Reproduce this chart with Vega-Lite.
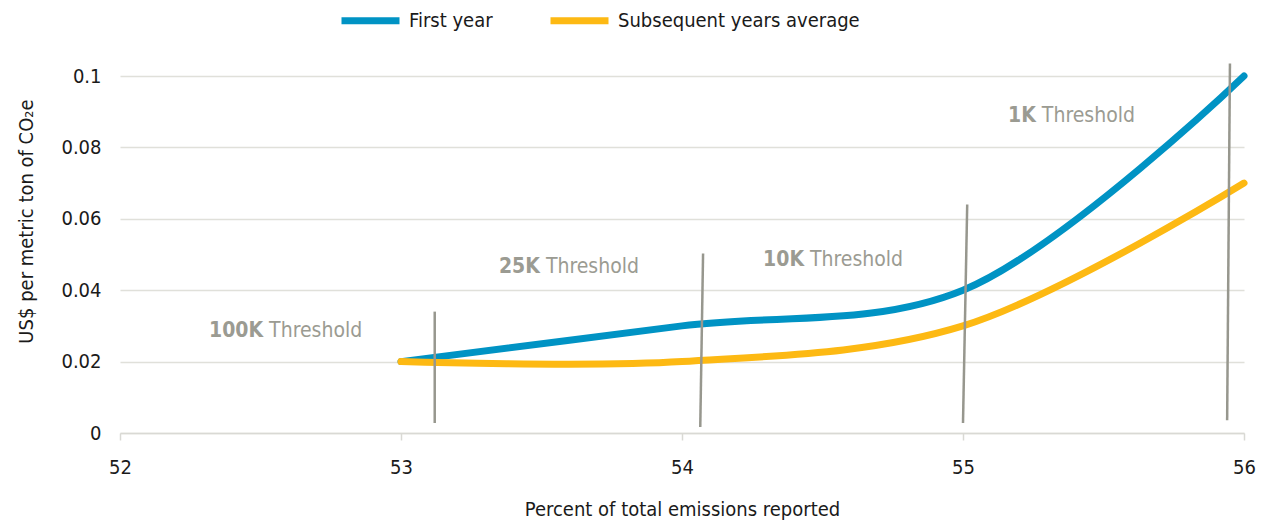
{
  "$schema": "https://vega.github.io/schema/vega-lite/v6.json",
  "width": 1124,
  "height": 357,
  "autosize": {"type": "none"},
  "padding": {"left": 120, "top": 76, "right": 18, "bottom": 92},
  "background": "#ffffff",
  "config": {
    "font": "DejaVu Sans Condensed, sans-serif",
    "view": {"stroke": null},
    "axis": {
      "labelFontSize": 20,
      "titleFontSize": 20,
      "labelColor": "#1a1a1a",
      "titleColor": "#1a1a1a",
      "titleFontWeight": "normal"
    },
    "legend": {"labelFontSize": 20, "labelColor": "#1a1a1a", "labelLimit": 400}
  },
  "datasets": {
    "series": [
      {"pct": 53, "cost": 0.02, "series": "First year"},
      {"pct": 54, "cost": 0.03, "series": "First year"},
      {"pct": 55, "cost": 0.04, "series": "First year"},
      {"pct": 56, "cost": 0.1, "series": "First year"},
      {"pct": 53, "cost": 0.02, "series": "Subsequent years average"},
      {"pct": 54, "cost": 0.02, "series": "Subsequent years average"},
      {"pct": 55, "cost": 0.03, "series": "Subsequent years average"},
      {"pct": 56, "cost": 0.07, "series": "Subsequent years average"}
    ],
    "thresholds": [
      {"xTop": 53.12, "xBot": 53.12, "yTop": 0.034, "yBot": 0.0028, "pos": 52.52, "ypos": 0.0286, "bold": "100K", "rest": "Threshold"},
      {"xTop": 54.075, "xBot": 54.065, "yTop": 0.0503, "yBot": 0.0017, "pos": 53.505, "ypos": 0.0465, "bold": "25K", "rest": "Threshold"},
      {"xTop": 55.015, "xBot": 55.0, "yTop": 0.064, "yBot": 0.0028, "pos": 54.445, "ypos": 0.0485, "bold": "10K", "rest": "Threshold"},
      {"xTop": 55.95, "xBot": 55.94, "yTop": 0.1035, "yBot": 0.0036, "pos": 55.27, "ypos": 0.0888, "bold": "1K", "rest": "Threshold"}
    ]
  },
  "layer": [
    {
      "data": {"name": "series"},
      "mark": {"type": "line", "interpolate": "catmull-rom", "strokeWidth": 7, "strokeCap": "round"},
      "encoding": {
        "x": {
          "field": "pct", "type": "quantitative",
          "scale": {"domain": [52, 56], "nice": false, "zero": false},
          "axis": {
            "title": "Percent of total emissions reported",
            "values": [52, 53, 54, 55, 56],
            "format": "d",
            "grid": false,
            "labelFlush": false,
            "domainColor": "#d9d9d4",
            "domainWidth": 1.5,
            "tickColor": "#d9d9d4",
            "tickWidth": 1.5,
            "tickSize": 7,
            "labelPadding": 17,
            "titlePadding": 22
          }
        },
        "y": {
          "field": "cost", "type": "quantitative",
          "scale": {"domain": [0, 0.1], "nice": false},
          "axis": {
            "title": "US$ per metric ton of CO₂e",
            "values": [0, 0.02, 0.04, 0.06, 0.08, 0.1],
            "format": ".2~f",
            "domain": false,
            "ticks": false,
            "grid": true,
            "gridColor": "#e0e0da",
            "gridWidth": 1.5,
            "labelPadding": 19,
            "titleX": -84,
            "titleY": 145
          }
        },
        "color": {
          "field": "series", "type": "nominal",
          "scale": {"domain": ["First year", "Subsequent years average"], "range": ["#0093c4", "#fdb913"]},
          "legend": {
            "title": null,
            "orient": "none",
            "direction": "horizontal",
            "legendX": 218,
            "legendY": -88,
            "symbolType": "stroke",
            "symbolSize": 3364,
            "symbolStrokeWidth": 7,
            "labelOffset": 6,
            "columnPadding": 43
          }
        }
      }
    },
    {
      "data": {"name": "thresholds"},
      "mark": {"type": "rule", "color": "#97978e", "strokeWidth": 2.5, "clip": false},
      "encoding": {
        "x": {"field": "xTop", "type": "quantitative"},
        "y": {"field": "yTop", "type": "quantitative"},
        "x2": {"field": "xBot"},
        "y2": {"field": "yBot"}
      }
    },
    {
      "data": {"name": "thresholds"},
      "mark": {"type": "text", "align": "right", "baseline": "middle", "fontSize": 21, "fontWeight": "bold", "color": "#9b9b92", "dx": -3},
      "encoding": {
        "x": {"field": "pos", "type": "quantitative"},
        "y": {"field": "ypos", "type": "quantitative"},
        "text": {"field": "bold"}
      }
    },
    {
      "data": {"name": "thresholds"},
      "mark": {"type": "text", "align": "left", "baseline": "middle", "fontSize": 21, "color": "#9b9b92", "dx": 3},
      "encoding": {
        "x": {"field": "pos", "type": "quantitative"},
        "y": {"field": "ypos", "type": "quantitative"},
        "text": {"field": "rest"}
      }
    }
  ]
}
